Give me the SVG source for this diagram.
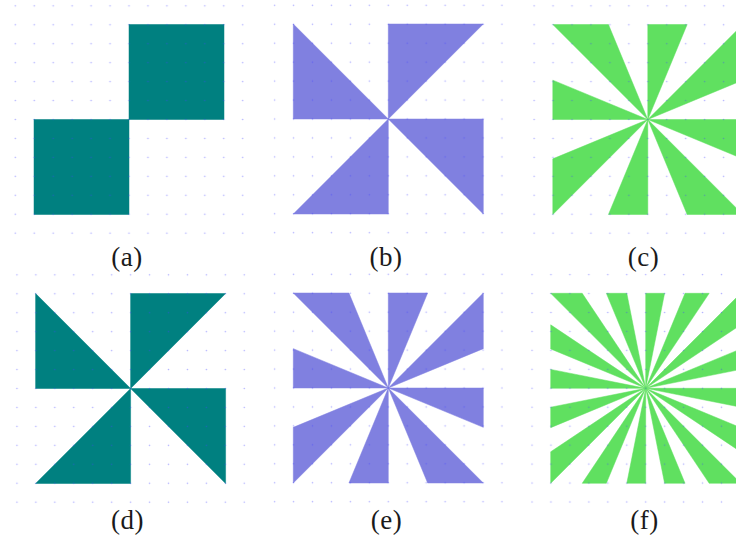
<svg xmlns="http://www.w3.org/2000/svg" xmlns:xlink="http://www.w3.org/1999/xlink" width="736" height="542" viewBox="0 0 736 542">
<style>
.teal{fill:#008080;stroke:#008080;stroke-width:0.5}
.blue{fill:#8080e0;stroke:#8080e0;stroke-width:0.5}
.green{fill:#60e060;stroke:#60e060;stroke-width:0.5}
.lbl{font-family:"Liberation Serif","Times New Roman",serif;font-size:27px;letter-spacing:0.5px;fill:#1a1a1a;text-anchor:middle}
.grid{fill:url(#dots)}
</style>
<defs>
<pattern id="dots" patternUnits="userSpaceOnUse" x="-9.475" y="-9.475" width="18.95" height="18.95">
<circle cx="9.475" cy="9.475" r="0.8" fill="#4040ff" fill-opacity="0.4"/>
</pattern>
<g id="pin4">
<path d="M0,0L-95,0L-95,-95Z M0,0L0,-95L95,-95Z M0,0L95,0L95,95Z M0,0L0,95L-95,95Z"/>
</g>
<g id="pin8">
<path d="M0,0L95,0L95,39.35Z M0,0L95,95L39.35,95Z M0,0L0,95L-39.35,95Z M0,0L-95,95L-95,39.35Z M0,0L-95,0L-95,-39.35Z M0,0L-95,-95L-39.35,-95Z M0,0L0,-95L39.35,-95Z M0,0L95,-95L95,-39.35Z"/>
</g>
<g id="pin16">
<path d="M0,0L95,0L95,18.9Z M0,0L95,39.35L95,63.48Z M0,0L95,95L63.48,95Z M0,0L39.35,95L18.9,95Z M0,0L0,95L-18.9,95Z M0,0L-39.35,95L-63.48,95Z M0,0L-95,95L-95,63.48Z M0,0L-95,39.35L-95,18.9Z M0,0L-95,0L-95,-18.9Z M0,0L-95,-39.35L-95,-63.48Z M0,0L-95,-95L-63.48,-95Z M0,0L-39.35,-95L-18.9,-95Z M0,0L0,-95L18.9,-95Z M0,0L39.35,-95L63.48,-95Z M0,0L95,-95L95,-63.48Z M0,0L95,-39.35L95,-18.9Z"/>
</g>
</defs>
<rect width="736" height="542" fill="#fff"/>

<g id="panel-a" transform="translate(129,119.5)">
<rect class="teal" x="0" y="-95" width="95" height="95"/>
<rect class="teal" x="-95" y="0" width="95" height="95"/>
<rect class="grid" x="-115" y="-115" width="230" height="230"/>
</g>
<g id="panel-b" transform="translate(388.3,119)">
<use class="blue" xlink:href="#pin4"/>
<rect class="grid" x="-115" y="-115" width="230" height="230"/>
</g>
<g id="panel-c" transform="translate(647.8,119.5)">
<use class="green" xlink:href="#pin8"/>
<rect class="grid" x="-115" y="-115" width="230" height="230"/>
</g>
<g id="panel-d" transform="translate(130.6,388.5)">
<use class="teal" xlink:href="#pin4"/>
<rect class="grid" x="-115" y="-115" width="230" height="230"/>
</g>
<g id="panel-e" transform="translate(388.3,388)">
<use class="blue" xlink:href="#pin8"/>
<rect class="grid" x="-115" y="-115" width="230" height="230"/>
</g>
<g id="panel-f" transform="translate(645.7,388.3)">
<use class="green" xlink:href="#pin16"/>
<rect class="grid" x="-115" y="-115" width="230" height="230"/>
</g>

<g id="labels">
<text class="lbl" x="127" y="266">(a)</text>
<text class="lbl" x="386" y="266">(b)</text>
<text class="lbl" x="643.5" y="266">(c)</text>
<text class="lbl" x="127.5" y="529">(d)</text>
<text class="lbl" x="386.5" y="529">(e)</text>
<text class="lbl" x="644.5" y="529">(f)</text>
</g>
</svg>
